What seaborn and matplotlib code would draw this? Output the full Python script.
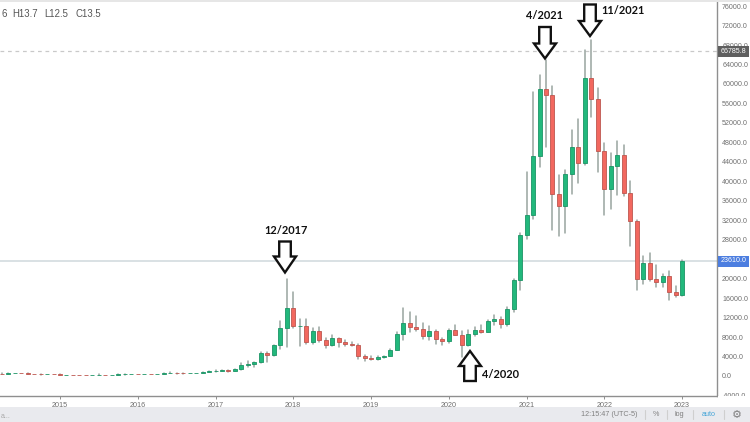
import numpy as np
import pandas as pd
import matplotlib
matplotlib.use("Agg")
import matplotlib.pyplot as plt
from matplotlib.patches import Polygon, Rectangle
from matplotlib.lines import Line2D
from matplotlib.transforms import Affine2D
import seaborn as sns

# Monthly candles, Apr 2014 .. Jan 2023
start_month = "2014-04"
opens = [460,447,630,640,585,480,390,340,375,
         320,217,254,244,236,230,263,284,230,236,314,377,
         430,368,437,416,448,536,673,624,575,609,700,745,
         963,970,1190,1080,1350,2300,2480,2875,4724,4340,6450,9900,
         13970,10300,10300,6900,9240,7490,6390,7730,7010,6600,6300,4020,
         3740,3440,3820,4100,5260,8570,10800,10080,9590,8290,9150,7550,
         7190,9350,8520,6410,8620,9450,9140,11330,11650,10780,13800,19700,
         29000,33100,45200,58900,57700,37300,35000,41400,47100,43800,61300,57000,
         46200,38500,43200,45500,37600,31800,19950,23300,20000,19400,20500,17200,
         16550]
closes = [447,630,640,585,480,390,340,375,320,
          217,254,244,236,230,263,284,230,236,314,377,430,
          368,437,416,448,536,673,624,575,609,700,745,963,
          970,1190,1080,1350,2300,2480,2875,4724,4340,6450,9900,13970,
          10300,10300,6900,9240,7490,6390,7730,7010,6600,6300,4020,3740,
          3440,3820,4100,5260,8570,10800,10080,9590,8290,9150,7550,7190,
          9350,8520,6410,8620,9450,9140,11330,11650,10780,13800,19700,29000,
          33100,45200,58900,57700,37300,35000,41400,47100,43800,61300,57000,46200,
          38500,43200,45500,37600,31800,19950,23300,20000,19400,20500,17200,16550,
          23610]
highs = [540,630,680,660,600,490,420,450,385,
         320,265,300,260,245,270,315,285,240,320,490,465,
         435,450,420,465,540,780,680,625,610,715,755,980,
         1150,1200,1280,1360,2760,2980,2920,4900,4980,6470,11300,19900,
         17200,11700,11700,9900,10000,7750,8450,7750,7400,7000,6550,4380,
         4070,4200,4100,5640,9100,13970,13200,12330,10900,10350,9500,7750,
         9570,10500,9190,9460,10070,10380,11420,12480,12050,14100,19860,29300,
         41950,58350,61800,64900,59500,41300,42400,50500,52900,67000,69000,59100,
         47900,45800,48200,47400,40000,32000,24700,25200,22800,21000,21500,18400,
         23800]
lows = [420,435,560,565,465,360,275,325,310,
        170,210,220,215,225,220,260,200,225,235,300,345,
        350,360,395,415,440,530,460,480,570,605,695,740,
        750,925,890,1060,1330,1840,1830,2700,2970,4150,5500,6000,
        9800,6100,6600,6500,7000,5750,6100,5880,6100,6200,3560,3130,
        3350,3370,3700,4090,5350,7440,9100,9320,7700,7300,6500,6430,
        6850,8450,3850,6150,8130,8900,8980,10530,9880,10370,13200,17570,
        28130,32300,43000,47000,30000,28800,29300,37300,39600,43300,53300,42000,
        33000,34300,37200,37000,26700,17700,18900,19600,18200,18200,15600,16300,
        16500]
year_labels = [2015, 2016, 2017, 2018, 2019, 2020, 2021, 2022, 2023]
price_ticks = list(range(-4000, 76001, 4000))
hidden_tick = 24000
last_price = 23610.0
ref_price = 66785.8
callouts = ["12/2017", "4/2021", "11/2021", "4/2020"]

W, H = 750, 422
GREEN, GREEN_E = "#22b87c", "#1b9465"
RED, RED_E = "#f2685f", "#bd564f"
WICK = "#98a49f"
AXIS = "#8f8f8f"
TXT = "#6f6f6f"

sns.set_theme(style="white")
plt.rcParams["font.family"] = ["Liberation Sans", "DejaVu Sans"]

fig = plt.figure(figsize=(W / 100, H / 100), dpi=100, facecolor="white")
ax = fig.add_axes([0, 1 - 396 / H, 717 / W, 396 / H], facecolor="white")

periods = pd.period_range(start_month, periods=len(opens), freq="M")
origin = pd.Period("2014-01", freq="M")
df = pd.DataFrame({
    "m": [(p - origin).n for p in periods],
    "open": opens, "close": closes, "high": highs, "low": lows,
})
long = df.melt(id_vars="m", value_vars=["low", "high"], value_name="price")

sns.lineplot(data=long, x="m", y="price", units="m", estimator=None,
             color=WICK, lw=1.1, ax=ax, legend=False, zorder=2, sort=False)

up = df["close"] >= df["open"]
for mask, face, edge in [(up, GREEN, GREEN_E), (~up, RED, RED_E)]:
    d = df[mask]
    ax.bar(d["m"], (d["close"] - d["open"]).abs(),
           bottom=d[["open", "close"]].min(axis=1),
           width=0.62, color=face, edgecolor=edge, lw=0.6, zorder=3)

ax.axhline(ref_price, color="#c9c9c9", lw=0.9, ls=(0, (3, 3)), zorder=1)
ax.axhline(last_price, color="#cfd8dc", lw=1.1, zorder=1)

# x px = 60 + (m - 12) * 6.48 ; y px = 376 - v * 370 / 76000
ax.set_xlim(12 - 60 / 6.48, 12 + 657 / 6.48)
ax.set_ylim(-20 * 4000 / 19.47, 376 * 4000 / 19.47)
ax.set_xlabel("")
ax.set_ylabel("")

ax.set_xticks([(y - 2014) * 12 for y in year_labels])
ax.set_xticklabels([str(y) for y in year_labels])
ax.yaxis.tick_right()
ax.set_yticks(price_ticks)
ax.set_yticklabels(["" if v == hidden_tick else f"{v:.1f}" for v in price_ticks])
ax.tick_params(axis="x", length=2.5, width=0.7, color=AXIS, labelsize=5.2,
               labelcolor=TXT, pad=1.5, bottom=True)
ax.tick_params(axis="y", length=2.5, width=0.7, color=AXIS, labelsize=5.1,
               labelcolor=TXT, pad=1.2, right=True)
sns.despine(ax=ax, top=True, left=True, right=False, bottom=False)
for s in ("right", "bottom"):
    ax.spines[s].set_color(AXIS)
    ax.spines[s].set_linewidth(1.0)

# pixel coordinates, origin top-left
px = Affine2D().scale(1 / W, -1 / H).translate(0, 1) + fig.transFigure


def ftext(x, y, s, **kw):
    kw.setdefault("ha", "left")
    kw.setdefault("va", "center")
    kw.setdefault("zorder", 12)
    fig.text(x, y, s, transform=px, **kw)


def frect(x0, y0, x1, y1, color, z=8):
    fig.patches.append(Rectangle((x0, y0), x1 - x0, y1 - y0, transform=px,
                                 facecolor=color, edgecolor="none", zorder=z))


def arrow(tip_x, tip_y, end_y, base_y):
    sh, hd = 5.8, 11
    pts = [(tip_x, tip_y), (tip_x + hd, base_y), (tip_x + sh, base_y), (tip_x + sh, end_y),
           (tip_x - sh, end_y), (tip_x - sh, base_y), (tip_x - hd, base_y)]
    fig.patches.append(Polygon(pts, closed=True, transform=px, facecolor="white",
                               edgecolor="#111111", lw=1.7, joinstyle="miter", zorder=11))


# mask for the clipped lowest tick label, status bar, top strip
frect(717.6, 396, W, 407, "white")
frect(0, 407, W, H, "#e9eaee")
frect(0, 0, W, 1.5, "#e6e6e6")

# price tags
frect(718, 46, W - 1, 57, "#5f5f5f", z=9)
ftext(721, 51.5, f"{ref_price:.1f}", color="white", fontsize=5.1)
frect(718, 255.5, W - 1, 266.5, "#4c7ee0", z=9)
ftext(721, 261, f"{last_price:.1f}", color="white", fontsize=5.1)

# arrows and callouts
arrow(285, 272.5, 241.5, 256.5)
arrow(545, 58.5, 27, 43.5)
arrow(590, 36, 4.5, 21)
arrow(470, 351, 381, 366)
bold = dict(family=["Lato", "DejaVu Sans"], fontweight="bold", color="#111111", fontsize=7.9)
ftext(286.5, 230, callouts[0], ha="center", **bold)
ftext(544, 15.5, callouts[1], ha="center", **bold)
ftext(623.5, 10, callouts[2], ha="center", **bold)
ftext(501, 374, callouts[3], ha="center", **bold)

# header and status texts
hdr = dict(color="#555555", fontsize=6.9)
ftext(2, 14, "6", **hdr)
ftext(12.5, 14, "H13.7", **hdr)
ftext(44, 14, "L12.5", **hdr)
ftext(75, 14, "C13.5", **hdr)
ftext(1, 416, "a...", color="#aaaaaa", fontsize=5)
ftext(581, 415, "12:15:47 (UTC-5)", color="#808080", fontsize=5.2)
ftext(655.5, 415, "%", color="#808080", fontsize=5.2, ha="center")
ftext(679.5, 415, "log", color="#808080", fontsize=5.2, ha="center")
ftext(708.5, 415, "auto", color="#45a5d8", fontsize=5.2, ha="center")
ftext(737, 414.5, "\u2699", color="#808080", fontsize=8, ha="center",
      family="DejaVu Sans")
for sx in (644.5, 666.5, 692.5, 723.5):
    fig.lines.append(Line2D([sx, sx], [410, 419], transform=px, color="#cfcfcf",
                            lw=0.8, zorder=11))

fig.savefig("out.png", dpi=100, facecolor="white")
